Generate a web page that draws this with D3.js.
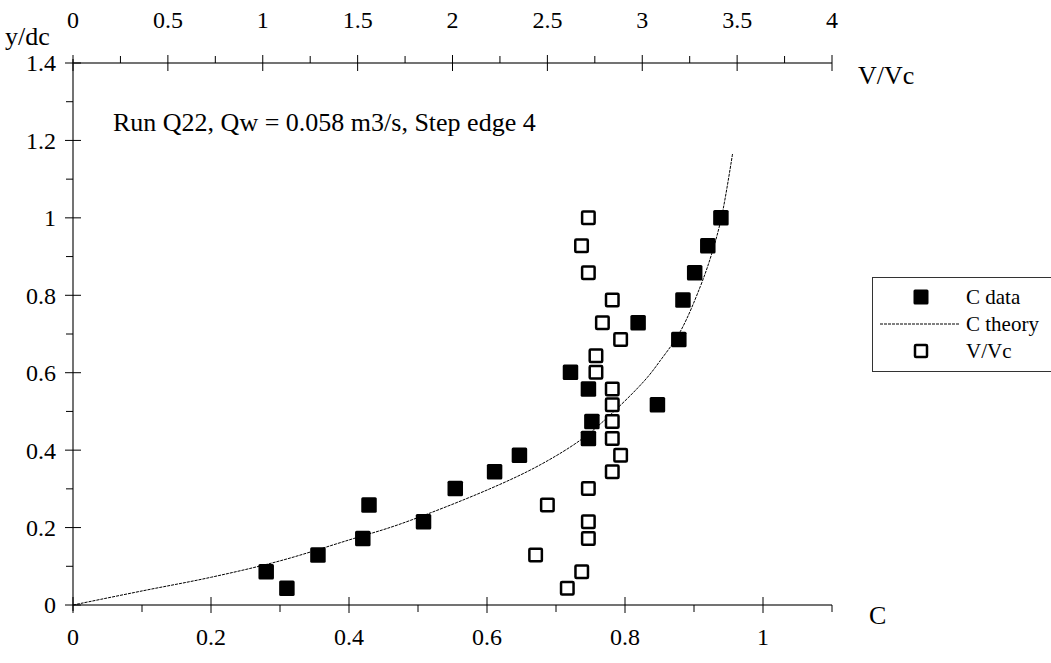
<!DOCTYPE html>
<meta charset="utf-8">
<style>
    body { margin: 0; background: #fff; }
</style>
<body>
<script src="https://d3js.org/d3.v7.min.js"></script>
<script>
// ---- data ----
// C data (filled squares): air concentration C vs y/dc
let cDataC = [0.28, 0.31, 0.355, 0.42, 0.429, 0.508, 0.554, 0.611, 0.647, 0.721, 0.747, 0.752, 0.747, 0.847, 0.819, 0.878, 0.884, 0.901, 0.92, 0.939];
let cDataY = [0.086, 0.043, 0.129, 0.172, 0.258, 0.215, 0.301, 0.344, 0.387, 0.601, 0.558, 0.474, 0.43, 0.517, 0.729, 0.686, 0.788, 0.858, 0.928, 1.0];

// C theory (thin line)
let theoryC = [0, 0.102, 0.201, 0.30, 0.40, 0.474, 0.604, 0.677, 0.737, 0.778, 0.829, 0.851, 0.880, 0.909, 0.926, 0.940, 0.956];
let theoryY = [0, 0.037, 0.072, 0.114, 0.168, 0.209, 0.300, 0.362, 0.428, 0.490, 0.581, 0.631, 0.706, 0.822, 0.909, 1.003, 1.167];

// V/Vc (open squares), read on the top axis
let vData = [2.605, 2.681, 2.438, 2.716, 2.716, 2.50, 2.716, 2.842, 2.886, 2.842, 2.842, 2.842, 2.842, 2.756, 2.756, 2.886, 2.79, 2.842, 2.716, 2.68, 2.716];
let vDataY = [0.043, 0.086, 0.129, 0.172, 0.215, 0.258, 0.301, 0.344, 0.387, 0.43, 0.474, 0.517, 0.558, 0.601, 0.644, 0.686, 0.729, 0.788, 0.858, 0.928, 1.0];

// ticks
let cTicks = [0, 0.2, 0.4, 0.6, 0.8, 1];
let cMinor = [0.1, 0.3, 0.5, 0.7, 0.9, 1.1];
let yTicks = [0, 0.2, 0.4, 0.6, 0.8, 1, 1.2, 1.4];
let yMinor = [0.1, 0.3, 0.5, 0.7, 0.9, 1.1, 1.3];
let vTicks = [0, 0.5, 1, 1.5, 2, 2.5, 3, 3.5, 4];
let vMinor = [0.25, 0.75, 1.25, 1.75, 2.25, 2.75, 3.25, 3.75];

let legendItems = ["C data", "C theory", "V/Vc"];

// ---- layout ----
let width = 1051, height = 663;
let plotLeft = 73, plotRight = 832, plotTop = 63, plotBottom = 605;
let serif = '"Liberation Serif", "Times New Roman", Times, "DejaVu Serif", serif';

let svg = d3.select("body").append("svg")
    .attr("width", width)
    .attr("height", height)
    .style("font-family", serif);

let x = d3.scaleLinear().domain([0, 1.1]).range([plotLeft, plotRight]);
let xTop = d3.scaleLinear().domain([0, 4]).range([plotLeft, plotRight]);
let y = d3.scaleLinear().domain([0, 1.4]).range([plotBottom, plotTop]);

let fontSize = 24;
let axisColor = "#444";

function label(sel, size) {
    return sel.attr("font-family", serif).attr("fill", "#000").style("font-size", (size || fontSize) + "px");
}

// axis lines
svg.append("line").attr("x1", plotLeft).attr("x2", plotRight).attr("y1", plotBottom).attr("y2", plotBottom)
    .attr("stroke", axisColor).attr("stroke-width", 1.5);
svg.append("line").attr("x1", plotLeft).attr("x2", plotRight).attr("y1", plotTop).attr("y2", plotTop)
    .attr("stroke", axisColor).attr("stroke-width", 1.5);
svg.append("line").attr("x1", plotLeft).attr("x2", plotLeft).attr("y1", plotTop - 4).attr("y2", plotBottom + 6)
    .attr("stroke", axisColor).attr("stroke-width", 1.5);

// bottom ticks: majors cross, minors point down
svg.append("g").selectAll("line").data(cTicks).join("line")
    .attr("x1", d => x(d)).attr("x2", d => x(d))
    .attr("y1", plotBottom - 8).attr("y2", plotBottom + 8)
    .attr("stroke", "#000");
svg.append("g").selectAll("line").data(cMinor).join("line")
    .attr("x1", d => x(d)).attr("x2", d => x(d))
    .attr("y1", plotBottom).attr("y2", plotBottom + 7)
    .attr("stroke", "#000");
svg.append("g").selectAll("text").data(cTicks).join("text")
    .call(label)
    .attr("x", d => x(d)).attr("y", 645)
    .attr("text-anchor", "middle")
    .text(d => d);

// top ticks: majors cross, minors point up
svg.append("g").selectAll("line").data(vTicks).join("line")
    .attr("x1", d => xTop(d)).attr("x2", d => xTop(d))
    .attr("y1", plotTop - 8).attr("y2", plotTop + 8)
    .attr("stroke", "#000");
svg.append("g").selectAll("line").data(vMinor).join("line")
    .attr("x1", d => xTop(d)).attr("x2", d => xTop(d))
    .attr("y1", plotTop - 7).attr("y2", plotTop)
    .attr("stroke", "#000");
svg.append("g").selectAll("text").data(vTicks).join("text")
    .call(label)
    .attr("x", d => xTop(d)).attr("y", 28)
    .attr("text-anchor", "middle")
    .text(d => d);

// left ticks: majors cross, minors point left
svg.append("g").selectAll("line").data(yTicks).join("line")
    .attr("x1", plotLeft - 8).attr("x2", plotLeft + 8)
    .attr("y1", d => y(d)).attr("y2", d => y(d))
    .attr("stroke", "#000");
svg.append("g").selectAll("line").data(yMinor).join("line")
    .attr("x1", plotLeft - 7).attr("x2", plotLeft)
    .attr("y1", d => y(d)).attr("y2", d => y(d))
    .attr("stroke", "#000");
svg.append("g").selectAll("text").data(yTicks).join("text")
    .call(label)
    .attr("x", 56).attr("y", d => y(d))
    .attr("dy", "0.35em")
    .attr("text-anchor", "end")
    .text(d => d);

// axis titles
svg.append("text").call(label, 26).attr("x", 5).attr("y", 45).text("y/dc");
svg.append("text").call(label, 26).attr("x", 858).attr("y", 84).text("V/Vc");
svg.append("text").call(label, 26).attr("x", 869).attr("y", 624).text("C");

// annotation
svg.append("text").call(label, 26).attr("x", 113).attr("y", 131)
    .text("Run Q22, Qw = 0.058 m3/s, Step edge 4");

// theory line
let line = d3.line()
    .x(d => x(d[0]))
    .y(d => y(d[1]))
    .curve(d3.curveCatmullRom.alpha(0.5));
svg.append("path")
    .datum(theoryC.map((c, i) => [c, theoryY[i]]))
    .attr("d", line)
    .attr("fill", "none")
    .attr("stroke", "#000")
    .attr("stroke-width", 1)
    .attr("stroke-dasharray", "3,1");

// markers
let sq = 15.5;
svg.append("g").selectAll("rect").data(cDataC.map((c, i) => [c, cDataY[i]])).join("rect")
    .attr("x", d => x(d[0]) - sq / 2)
    .attr("y", d => y(d[1]) - sq / 2)
    .attr("width", sq).attr("height", sq)
    .attr("rx", 1.5)
    .attr("fill", "#000");

let osq = 12.5;
svg.append("g").selectAll("rect").data(vData.map((v, i) => [v, vDataY[i]])).join("rect")
    .attr("x", d => xTop(d[0]) - osq / 2)
    .attr("y", d => y(d[1]) - osq / 2)
    .attr("width", osq).attr("height", osq)
    .attr("rx", 1)
    .attr("fill", "#fff")
    .attr("stroke", "#000")
    .attr("stroke-width", 2.5);

// legend
let lg = svg.append("g");
lg.append("rect").attr("x", 872.5).attr("y", 277.5).attr("width", 200).attr("height", 94)
    .attr("fill", "#fff").attr("stroke", "#333").attr("stroke-width", 1);
let legendY = [297, 324, 351];
lg.selectAll("text").data(legendItems).join("text")
    .call(label, 21)
    .attr("x", 966).attr("y", (d, i) => legendY[i])
    .attr("dy", "0.35em")
    .text(d => d);
lg.append("rect").attr("x", 921 - 7.5).attr("y", legendY[0] - 7.5).attr("width", 15).attr("height", 15)
    .attr("rx", 1.5).attr("fill", "#000");
lg.append("line").attr("x1", 880).attr("x2", 960).attr("y1", legendY[1]).attr("y2", legendY[1])
    .attr("stroke", "#000").attr("stroke-dasharray", "3,1");
lg.append("rect").attr("x", 921 - 6).attr("y", legendY[2] - 6).attr("width", 12).attr("height", 12)
    .attr("rx", 1).attr("fill", "#fff").attr("stroke", "#000").attr("stroke-width", 2.5);
</script>
</body>
